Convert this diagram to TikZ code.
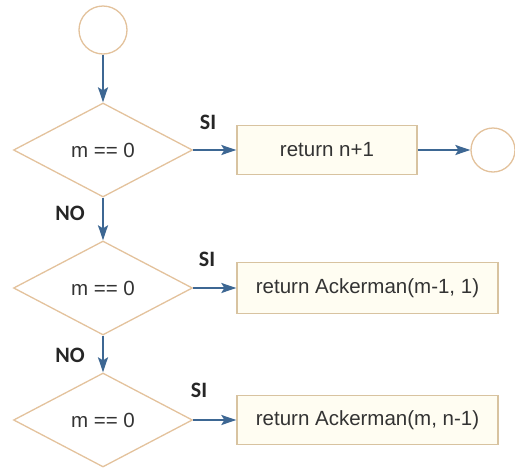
\documentclass[tikz,border=0pt]{standalone}
\usepackage{fontspec}
\setmainfont{Liberation Sans}
\newfontfamily\lblfont{Carlito}
\usetikzlibrary{shapes.geometric,arrows.meta}
\definecolor{tanline}{HTML}{E3C29C}
\definecolor{boxline}{HTML}{D8C3A0}
\definecolor{boxfill}{HTML}{FFFDF2}
\definecolor{arrowblue}{HTML}{3D6793}
\definecolor{txt}{HTML}{333333}
\begin{document}
\begin{tikzpicture}[x=1pt,y=-1pt,
  decision/.style={draw=tanline, line width=1.3pt, diamond, minimum width=179pt, minimum height=94pt, inner sep=0pt, aspect=1.9, text=txt, font=\fontsize{20.5}{22}\selectfont},
  procbox/.style={draw=boxline, fill=boxfill, line width=1.3pt, rectangle, inner sep=0pt, text=txt, font=\fontsize{20.5}{22}\selectfont},
  terminal/.style={draw=tanline, line width=1.3pt, circle, inner sep=0pt, fill=white},
  flow/.style={draw=arrowblue, line width=1.8pt, -{Stealth[length=15pt,width=10pt,inset=3pt]}},
  lbl/.style={text=black!85, font=\lblfont\bfseries\fontsize{22}{24}\selectfont, inner sep=0pt}
]
\useasboundingbox (0,0) rectangle (515,472);
\node[terminal, minimum size=48pt] (start) at (103,30) {};
\node[decision] (d1) at (103,150) {m == 0};
\node[procbox, minimum width=180pt, minimum height=49pt] (b1) at (327,150) {return n+1};
\node[terminal, minimum size=44pt] (stop) at (493,150) {};
\node[decision] (d2) at (103,288) {m == 0};
\node[procbox, minimum width=261pt, minimum height=51pt] (b2) at (367.5,288) {return Ackerman(m-1, 1)};
\node[decision] (d3) at (103,420) {m == 0};
\node[procbox, minimum width=261pt, minimum height=49pt] (b3) at (367.5,420) {return Ackerman(m, n-1)};
\draw[flow] (start) -- (d1);
\draw[flow] (d1) -- (b1);
\draw[flow] (b1) -- (stop);
\draw[flow] (d1) -- (d2);
\draw[flow] (d2) -- (b2);
\draw[flow] (d2) -- (d3);
\draw[flow] (d3) -- (b3);
\node[lbl] (si1) at (208,122) {SI};
\node[lbl] (no1) at (70,213) {NO};
\node[lbl] (si2) at (207,259) {SI};
\node[lbl] (no2) at (70,355) {NO};
\node[lbl] (si3) at (199,390) {SI};
\end{tikzpicture}
\end{document}
